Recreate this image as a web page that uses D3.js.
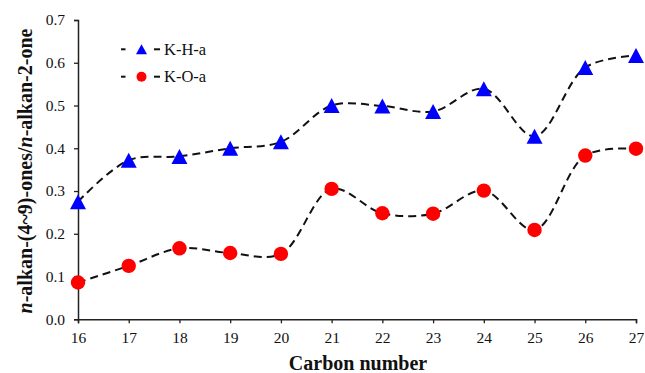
<!DOCTYPE html>
<html><head><meta charset="utf-8">
<script src="https://cdn.jsdelivr.net/npm/d3@7"></script>
<style>body{margin:0;background:#fff}svg{display:block}</style>
</head><body>
<svg id="chart" width="645" height="373"></svg>
<script>
const carbon = [16,17,18,19,20,21,22,23,24,25,26,27];
const seriesNames = ["K-H-a","K-O-a"];
const khA = [0.275,0.372,0.381,0.400,0.415,0.500,0.499,0.486,0.539,0.428,0.589,0.617];
const koA = [0.086,0.125,0.166,0.155,0.153,0.305,0.248,0.247,0.301,0.209,0.383,0.399];
const yTicks = [0,0.1,0.2,0.3,0.4,0.5,0.6,0.7];

const svg = d3.select("#chart");
const font = "Liberation Serif";
const x = d3.scaleLinear().domain([16,27]).range([78,636]);
const y = d3.scaleLinear().domain([0,0.7]).range([319.3,20]);

const xAxis = svg.append("g").attr("transform","translate(0,319.3)")
  .call(d3.axisBottom(x).tickValues(carbon).tickFormat(d3.format("d")).tickSizeOuter(0).tickSize(4).tickPadding(9));
const yAxis = svg.append("g").attr("transform","translate(78,0)")
  .call(d3.axisLeft(y).tickValues(yTicks).tickFormat(d3.format(".1f")).tickSizeOuter(0).tickSize(4).tickPadding(9));
[xAxis,yAxis].forEach(g=>{
  g.attr("font-family",font);
  g.selectAll("path.domain").attr("stroke","#222").attr("stroke-width",1.5);
  g.selectAll(".tick line").attr("stroke","#222").attr("stroke-width",1.3);
  g.selectAll("text").attr("font-family",font).attr("font-size",15.5).attr("fill","#111");
});

svg.append("text").attr("x",358).attr("y",370).attr("text-anchor","middle")
  .attr("font-family",font).attr("font-weight","bold").attr("font-size",20).attr("fill","#111")
  .text("Carbon number");

const yt = svg.append("text").attr("transform","translate(32,171) rotate(-90)").attr("text-anchor","middle")
  .attr("font-family",font).attr("font-weight","bold").attr("font-size",20).attr("fill","#111");
yt.append("tspan").attr("font-style","italic").text("n");
yt.append("tspan").text("-alkan-(4~9)-ones/");
yt.append("tspan").attr("font-style","italic").text("n");
yt.append("tspan").text("-alkan-2-one");

const line = d3.line().x((d,i)=>x(carbon[i])).y(d=>y(d)).curve(d3.curveCatmullRom.alpha(0.5));
[khA,koA].forEach(s=>{
  svg.append("path").attr("d",line(s)).attr("fill","none").attr("stroke","#111")
    .attr("stroke-width",2).attr("stroke-dasharray","8,5");
});

// triangle centred on its bounding box (like spreadsheet markers)
const triPath = (s,h)=>`M0,${-h/2}L${s/2},${h/2}L${-s/2},${h/2}Z`;
svg.append("g").selectAll("path").data(khA).join("path")
  .attr("d",triPath(16,15)).attr("transform",(d,i)=>`translate(${x(carbon[i])},${y(d)})`).attr("fill","#0000ff");
svg.append("g").selectAll("circle").data(koA).join("circle")
  .attr("cx",(d,i)=>x(carbon[i])).attr("cy",d=>y(d)).attr("r",7.2).attr("fill","#ff0000");

// legend
const leg = [{name:seriesNames[0],y:49.3,t:"tri"},{name:seriesNames[1],y:76.7,t:"circ"}];
leg.forEach(l=>{
  svg.append("line").attr("x1",121).attr("x2",125.5).attr("y1",l.y).attr("y2",l.y).attr("stroke","#111").attr("stroke-width",2);
  svg.append("line").attr("x1",154).attr("x2",160).attr("y1",l.y).attr("y2",l.y).attr("stroke","#111").attr("stroke-width",2);
  if(l.t==="tri") svg.append("path").attr("d",triPath(11,10)).attr("transform",`translate(141.5,${l.y})`).attr("fill","#0000ff");
  else svg.append("circle").attr("cx",141.5).attr("cy",l.y).attr("r",5).attr("fill","#ff0000");
  svg.append("text").attr("x",164).attr("y",l.y+5.5).attr("font-family",font).attr("font-size",16.5).attr("fill","#111").text(l.name);
});
</script>
</body></html>
